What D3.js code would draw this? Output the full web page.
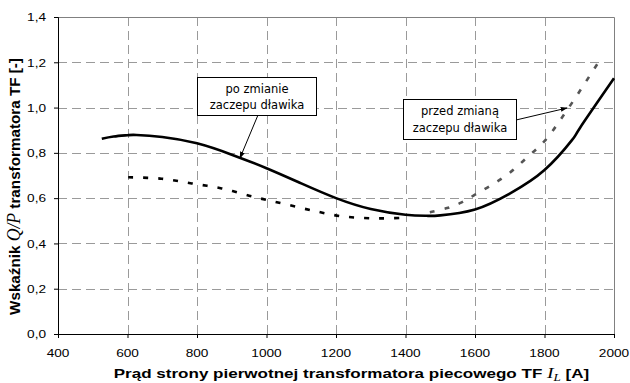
<!DOCTYPE html>
<html><head><meta charset="utf-8">
<script src="https://cdn.jsdelivr.net/npm/d3@7"></script>
<style>body{margin:0;background:#fff}svg{display:block}</style>
</head><body>
<svg id="c" width="630" height="383"></svg>
<script>
const xTicks = [400,600,800,1000,1200,1400,1600,1800,2000];
const yTicks = [0,0.2,0.4,0.6,0.8,1.0,1.2,1.4];
// po zmianie zaczepu dławika (solid)
const afterX = [526,560,600,626,700,800,900,1000,1100,1200,1300,1400,1461,1500,1600,1700,1800,1879,1902,2000];
const afterY = [0.862,0.872,0.878,0.879,0.870,0.842,0.792,0.732,0.665,0.600,0.552,0.527,0.522,0.524,0.550,0.620,0.724,0.856,0.910,1.129];
// przed zmianą zaczepu dławika (black dotted part)
const beforeX1 = [602,698,785,871,957,1001,1044,1130,1216,1302,1346,1390];
const beforeY1 = [0.692,0.686,0.665,0.643,0.608,0.592,0.577,0.546,0.520,0.511,0.511,0.513];
// przed zmianą zaczepu dławika (grey dashed part)
const beforeX2 = [1470,1520,1560,1600,1650,1700,1750,1800,1870,1955];
const beforeY2 = [0.538,0.556,0.580,0.615,0.660,0.712,0.780,0.852,1.000,1.200];

const svg = d3.select("#c");
const L=58, R=614, T=17, B=334;
const x = d3.scaleLinear().domain([400,2000]).range([L,R]);
const y = d3.scaleLinear().domain([0,1.4]).range([B,T]);
const fmt = d => d.toFixed(1).replace(".",",");
const SANS = "Liberation Sans, Arial, sans-serif";
const SERIF = "Liberation Serif, Times New Roman, serif";

// grid
svg.append("g").selectAll("line").data(yTicks.filter(d=>d>0 && d<1.4)).join("line")
 .attr("x1",L).attr("x2",R).attr("y1",d=>Math.round(y(d))+0.5).attr("y2",d=>Math.round(y(d))+0.5)
 .attr("stroke","#9a9a9a").attr("stroke-dasharray","9,5").attr("stroke-width",1);
svg.append("g").selectAll("line").data(xTicks.filter(d=>d>400 && d<2000)).join("line")
 .attr("y1",T).attr("y2",B).attr("x1",d=>Math.round(x(d))+0.5).attr("x2",d=>Math.round(x(d))+0.5)
 .attr("stroke","#9a9a9a").attr("stroke-dasharray","9,5").attr("stroke-width",1);
// border top/right
svg.append("path").attr("d",`M${L},${T+0.5}H${R+0.5}V${B}`).attr("fill","none").attr("stroke","#808080");

// axes (lines only; labels drawn below with stretch)
const xa = svg.append("g").attr("transform",`translate(0,${B})`)
 .call(d3.axisBottom(x).tickValues(xTicks).tickSize(4).tickFormat(""));
const ya = svg.append("g").attr("transform",`translate(${L},0)`)
 .call(d3.axisLeft(y).tickValues(yTicks).tickSize(4).tickFormat(""));
[xa,ya].forEach(a=>{
  a.select(".domain").attr("stroke","#000");
  a.selectAll(".tick line").attr("stroke","#000");
});
const SX = 1.3;
svg.append("g").selectAll("text").data(xTicks).join("text")
 .attr("transform",d=>`translate(${x(d)},357) scale(${SX},1)`).attr("text-anchor","middle")
 .attr("font-family",SANS).attr("font-size","10.5px").text(d=>d);
svg.append("g").selectAll("text").data(yTicks).join("text")
 .attr("transform",d=>`translate(46,${y(d)+4.3}) scale(${SX},1)`).attr("text-anchor","end")
 .attr("font-family",SANS).attr("font-size","10.5px").text(fmt);

// lines
const line = d3.line().x(d=>x(d[0])).y(d=>y(d[1])).curve(d3.curveNatural);
svg.append("path").datum(afterX.map((v,i)=>[v,afterY[i]])).attr("d",line)
 .attr("fill","none").attr("stroke","#000").attr("stroke-width",2.6);
const line2 = d3.line().x(d=>x(d[0])).y(d=>y(d[1])).curve(d3.curveCatmullRom.alpha(0.5));
svg.append("path").datum(beforeX1.map((v,i)=>[v,beforeY1[i]])).attr("d",line2)
 .attr("fill","none").attr("stroke","#000").attr("stroke-width",2.6).attr("stroke-dasharray","5,10");
svg.append("path").datum(beforeX2.map((v,i)=>[v,beforeY2[i]])).attr("d",line2)
 .attr("fill","none").attr("stroke","#555").attr("stroke-width",2.6).attr("stroke-dasharray","5,10");

// arrow marker
svg.append("defs").append("marker").attr("id","ah").attr("viewBox","0 0 10 10")
 .attr("refX",9).attr("refY",5).attr("markerWidth",7).attr("markerHeight",7).attr("orient","auto")
 .append("path").attr("d","M0,1.5L10,5L0,8.5z").attr("fill","#000");

function callout(x0,y0,w,h,lines,gap,ax0,ay0,ax1,ay1){
  svg.append("line").attr("x1",ax0).attr("y1",ay0).attr("x2",ax1).attr("y2",ay1)
   .attr("stroke","#000").attr("stroke-width",1).attr("marker-end","url(#ah)");
  svg.append("rect").attr("x",x0+0.5).attr("y",y0+0.5).attr("width",w).attr("height",h)
   .attr("fill","#fff").attr("stroke","#000").attr("stroke-width",1);
  const t = svg.append("text").attr("font-family","DejaVu Sans, Verdana, sans-serif").attr("font-size","11.5px")
   .attr("text-anchor","middle").attr("fill","#000");
  lines.forEach((s,i)=>t.append("tspan").attr("x",x0+w/2+0.5).attr("y",y0+16+i*gap).text(s));
}
callout(197,77,119,38,["po zmianie","zaczepu dławika"],16,258,115,240,158);
callout(403,99,113,40,["przed zmianą","zaczepu dławika"],17,516,120,567,108);

// axis titles
function fitX(sel, cx, by, target, rot){
  const w = sel.node().getBBox().width;
  const k = target / w;
  if(rot) sel.attr("transform",`translate(${cx},${by}) rotate(-90) scale(${k},1)`);
  else sel.attr("transform",`translate(${cx},${by}) scale(${k},1)`);
}
const xt = svg.append("text").attr("text-anchor","middle")
 .attr("font-family",SANS).attr("font-size","13px").attr("font-weight","bold");
xt.append("tspan").text("Prąd strony pierwotnej transformatora piecowego TF  ");
xt.append("tspan").attr("font-family",SERIF).attr("font-style","italic").attr("font-weight","normal").attr("font-size","15px").text("I");
xt.append("tspan").attr("font-family",SERIF).attr("font-style","italic").attr("font-weight","normal").attr("font-size","10px").attr("dy","3").text("L");
xt.append("tspan").attr("dy","-3").text("  [A]");
fitX(xt, 351.5, 378, 476, false);

const yt = svg.append("text").attr("text-anchor","middle")
 .attr("font-family",SANS).attr("font-size","15.5px").attr("font-weight","bold");
yt.append("tspan").text("Wskaźnik ");
yt.append("tspan").attr("font-family",SERIF).attr("font-style","italic").attr("font-weight","normal").attr("font-size","18px").text("Q/P");
yt.append("tspan").text(" transformatora TF [-]");
fitX(yt, 20, 186.5, 257, true);
</script>
</body></html>
